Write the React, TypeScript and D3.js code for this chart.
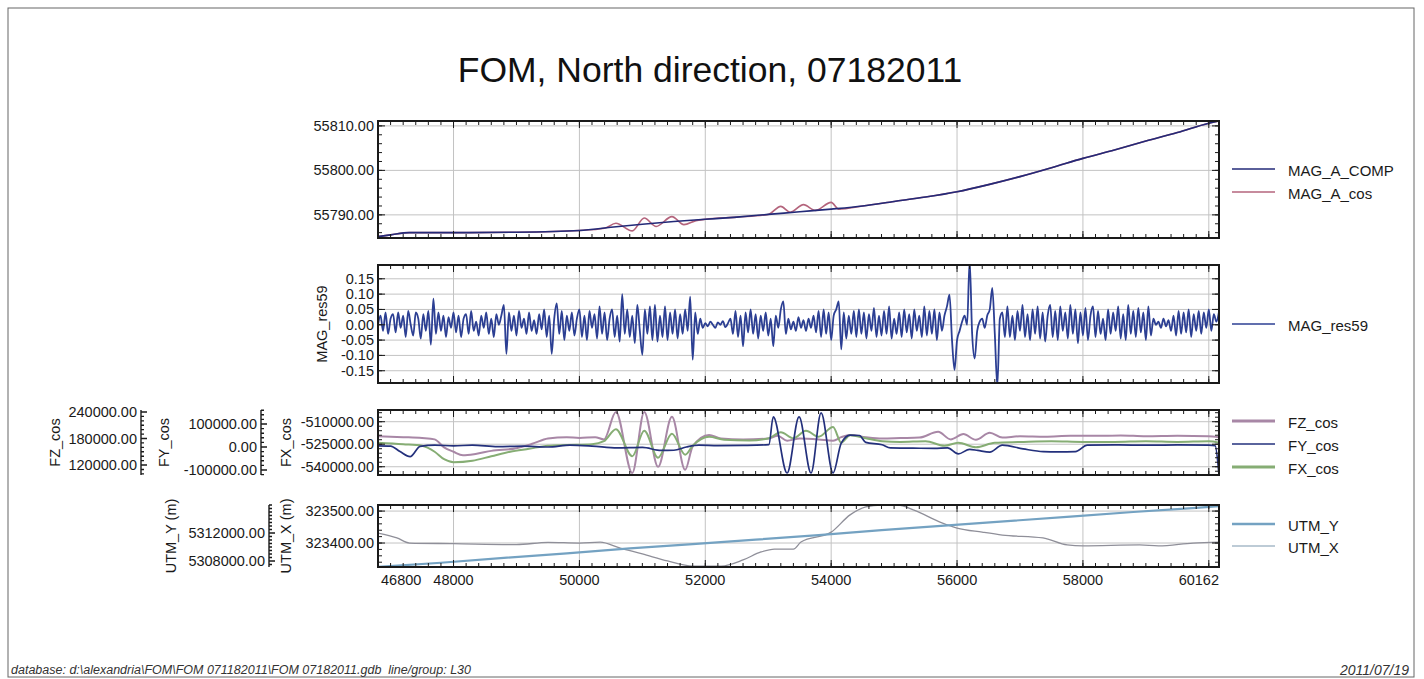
import React from "react";
import * as d3 from "d3";

// ---------- shared fiducial axis ----------
const X_START = 46800;
const X_END = 60162;
const X_GRID = [48000, 50000, 52000, 54000, 56000, 58000, 60000];
const X_LABELS = [46800, 48000, 50000, 52000, 54000, 56000, 58000, 60162];
const X_MINOR_STEP = 200;

const TITLE = "FOM, North direction, 07182011";
const FOOTER_LEFT =
  "database: d:\\alexandria\\FOM\\FOM 071182011\\FOM 07182011.gdb  line/group: L30";
const FOOTER_RIGHT = "2011/07/19";

// ---------- panel 1: total field ----------
const MAG_DOMAIN = [55784.8, 55811.1];
const MAG_TICKS = [55790, 55800, 55810];
const MAG_MINOR = 2;
const MAG_A_COMP: [number, number][] = [
  [46800, 55785.1], [47000, 55785.5], [47300, 55786.0], [48000, 55786.0],
  [49000, 55786.1], [50000, 55786.5], [50500, 55787.2], [51000, 55787.9],
  [51500, 55788.5], [52000, 55789.0], [52500, 55789.5], [53000, 55790.1],
  [53500, 55790.7], [54000, 55791.3], [54500, 55792.0], [55000, 55793.0],
  [55500, 55794.0], [56000, 55795.2], [56500, 55796.8], [57000, 55798.6],
  [57500, 55800.6], [58000, 55802.7], [58500, 55804.6], [59000, 55806.6],
  [59500, 55808.5], [60000, 55810.6], [60162, 55811.1],
];
const MAG_A_COS: [number, number][] = [
  [46800, 55785.1], [47000, 55785.5], [47300, 55786.0], [48000, 55786.0],
  [49000, 55786.1], [50000, 55786.5], [50400, 55787.0], [50580, 55788.1],
  [50840, 55786.4], [51030, 55789.3], [51220, 55787.4], [51470, 55789.6],
  [51660, 55787.8], [51850, 55788.7], [52000, 55789.0], [52500, 55789.5],
  [53000, 55790.1], [53200, 55791.9], [53350, 55790.6], [53560, 55792.3],
  [53750, 55791.0], [54000, 55792.8], [54120, 55791.3], [54500, 55792.0],
  [55000, 55793.0], [55500, 55794.0], [56000, 55795.2], [56500, 55796.8],
  [57000, 55798.6], [57500, 55800.6], [58000, 55802.7], [58500, 55804.6],
  [59000, 55806.6], [59500, 55808.5], [60000, 55810.6], [60162, 55811.1],
];

// ---------- panel 2: residual ----------
const RES_DOMAIN = [-0.19, 0.195];
const RES_TICKS = [-0.15, -0.1, -0.05, 0, 0.05, 0.1, 0.15];
const RES_START = 46800;
const RES_STEP = 40;
const MAG_RES59 = [
  0.0, 0.03, -0.02, 0.04, -0.03, 0.02, 0.035, -0.025, 0.04, -0.01,
  0.03, -0.04, 0.045, 0.0, -0.035, 0.04, 0.02, -0.045, 0.035, -0.02,
  0.045, -0.065, 0.085, -0.03, 0.04, -0.02, 0.03, -0.04, 0.025, -0.01,
  0.04, -0.025, 0.03, -0.04, 0.02, 0.035, -0.03, 0.045, -0.02, 0.01,
  -0.035, 0.03, -0.01, 0.04, -0.03, 0.02, -0.04, 0.035, 0.0, 0.03,
  0.065, -0.095, 0.04, -0.02, 0.03, -0.035, 0.045, -0.01, 0.02, -0.03,
  0.04, -0.02, 0.015, -0.03, 0.035, -0.015, 0.05, -0.04, 0.03, -0.095,
  0.02, 0.07, -0.03, 0.045, -0.05, 0.03, -0.02, 0.04, -0.035, 0.02,
  0.05, -0.04, 0.03, -0.05, 0.045, -0.01, 0.035, -0.045, 0.06, -0.03,
  0.04, -0.05, 0.02, 0.05, -0.04, 0.03, -0.055, 0.1, -0.03, 0.05,
  -0.04, 0.03, -0.06, 0.065, -0.02, -0.098, 0.05, -0.03, 0.06, -0.05,
  0.065, -0.055, 0.03, -0.04, 0.06, -0.05, 0.04, -0.03, 0.05, -0.045,
  0.035, -0.03, 0.05, -0.02, 0.092, -0.114, 0.04, -0.03, 0.02, -0.01,
  0.005, -0.005, 0.01, 0.0, -0.01, 0.008, 0.0, 0.012, -0.008, 0.005,
  0.02, -0.03, 0.045, -0.04, 0.03, -0.07, 0.04, -0.025, 0.05, -0.03,
  0.035, -0.045, 0.03, -0.02, 0.04, -0.035, 0.02, -0.07, 0.03, -0.01,
  0.05, 0.076, -0.03, 0.02, -0.015, 0.01, -0.02, 0.025, -0.01, 0.015,
  -0.02, 0.02, -0.01, 0.03, -0.025, 0.045, -0.04, 0.05, -0.03, 0.04,
  -0.05, 0.03, 0.05, 0.076, -0.08, 0.04, -0.045, 0.03, -0.03, 0.045,
  -0.04, 0.05, -0.03, 0.04, -0.045, 0.035, -0.02, 0.055, -0.04, 0.03,
  -0.035, 0.045, -0.03, 0.06, -0.045, 0.02, -0.03, 0.04, -0.04, 0.05,
  -0.025, 0.035, -0.045, 0.05, -0.02, 0.03, -0.04, 0.06, -0.035, 0.045,
  -0.03, 0.05, -0.05, 0.04, -0.02, 0.03, 0.06, 0.098, -0.05, -0.147,
  -0.05, -0.02, 0.01, 0.03, 0.0, 0.21, -0.03, -0.11, -0.02, 0.01,
  0.02, -0.01, 0.03, 0.05, 0.12, -0.03, -0.2, 0.02, 0.04, -0.04,
  0.06, -0.04, 0.03, -0.05, 0.045, -0.02, 0.065, -0.04, 0.035, -0.05,
  0.05, -0.03, 0.06, -0.045, 0.04, -0.055, 0.03, 0.065, -0.04, 0.045,
  -0.05, 0.06, -0.02, 0.04, -0.045, 0.065, -0.03, 0.05, -0.06, 0.04,
  -0.035, 0.055, -0.05, 0.03, 0.06, -0.04, 0.045, -0.03, 0.02, -0.05,
  0.05, -0.03, 0.04, -0.02, 0.06, -0.045, 0.035, -0.05, 0.065, -0.03,
  0.045, -0.04, 0.055, -0.025, 0.04, -0.05, 0.06, -0.035, 0.02, 0.0,
  0.01, -0.01, 0.02, -0.005, 0.015, -0.02, 0.03, -0.035, 0.045, -0.03,
  0.04, -0.025, 0.05, -0.04, 0.035, -0.02, 0.045, -0.03, 0.04, -0.01,
  0.05, -0.02, 0.035, 0.01, 0.04,
];

// ---------- panel 3: fluxgate components ----------
const FZ_DOMAIN = [97400, 244500];
const FZ_TICKS = [120000, 180000, 240000];
const FY_DOMAIN = [-121700, 160900];
const FY_TICKS = [-100000, 0, 100000];
const FX_DOMAIN = [-545500, -502200];
const FX_TICKS = [-540000, -525000, -510000];
const FZ_COS: [number, number][] = [
  [46800, 185000], [47200, 183000], [47500, 181000], [47700, 178000],
  [47850, 160000], [48000, 150000], [48150, 142000], [48350, 145000],
  [48600, 152000], [49000, 158000], [49250, 168000], [49500, 180000],
  [49800, 183000], [50000, 181000], [50250, 183000], [50390, 178000],
  [50580, 240000], [50840, 102000], [51030, 240000], [51250, 116000],
  [51470, 229000], [51680, 109000], [51800, 162000], [52060, 188000],
  [52250, 180000], [52600, 178000], [53010, 180000], [53150, 186000],
  [53300, 175000], [53500, 180000], [53800, 178000], [54030, 175000],
  [54160, 183000], [54300, 188000], [54550, 183000], [54810, 180000],
  [55100, 181000], [55400, 182000], [55700, 195000], [55900, 178000],
  [56100, 190000], [56300, 177000], [56520, 193000], [56720, 182000],
  [57000, 185000], [57400, 184000], [57800, 186000], [58200, 186000],
  [58600, 187000], [59000, 185000], [59500, 186000], [60000, 185000],
  [60162, 183000],
];
const FY_COS: [number, number][] = [
  [46800, 5000], [47000, 4000], [47150, -20000], [47310, -42000],
  [47470, 3000], [47700, 8000], [48000, 5000], [48300, 8000],
  [48700, 2000], [49100, 4000], [49500, 0], [49850, 8000],
  [50200, 4000], [50600, -4000], [51000, -2000], [51300, -15000],
  [51500, -14000], [51700, 0], [51900, 8000], [52200, 6000],
  [52600, 7000], [53010, 10000], [53080, 131000], [53300, -113000],
  [53490, 131000], [53680, -113000], [53840, 148000], [54030, -113000],
  [54160, 17000], [54300, 52000], [54450, 50000], [54550, 20000],
  [54810, 10000], [54940, -4000], [55300, -5000], [55640, -6000],
  [55850, -4000], [56020, -30000], [56200, -10000], [56330, -15000],
  [56520, -22000], [56720, 8000], [57050, -8000], [57370, -20000],
  [57600, -21000], [57880, -20000], [58070, 8000], [58500, 9000],
  [59070, 8000], [59500, 9000], [60000, 8000], [60100, 6000],
  [60162, -121000],
];
const FX_COS: [number, number][] = [
  [46800, -524000], [47200, -525000], [47500, -526000], [47700, -530000],
  [47850, -535000], [48000, -537000], [48300, -536000], [48600, -533000],
  [48900, -530000], [49200, -528000], [49500, -526000], [49800, -525500],
  [50200, -525000], [50390, -523000], [50580, -515000], [50840, -533000],
  [51030, -516000], [51250, -534000], [51470, -518000], [51680, -532000],
  [51800, -526000], [52060, -520000], [52300, -522000], [52700, -522500],
  [53010, -521000], [53200, -517000], [53400, -521000], [53600, -516000],
  [53800, -520000], [54030, -513500], [54160, -524000], [54300, -519000],
  [54550, -521000], [54810, -523000], [55100, -523500], [55500, -523000],
  [55800, -526000], [56020, -524000], [56300, -527000], [56600, -524000],
  [57000, -523500], [57500, -523000], [58000, -523500], [58500, -523500],
  [59000, -523000], [59500, -523500], [60000, -523000], [60162, -524000],
];

// ---------- panel 4: position ----------
const UTMY_DOMAIN = [5307143, 5316000];
const UTMY_TICKS = [5308000, 5312000];
const UTMX_DOMAIN = [323325, 323519];
const UTMX_TICKS = [323400, 323500];
const UTM_Y: [number, number][] = [
  [46800, 5307150], [47800, 5307750], [48800, 5308450], [49800, 5309100],
  [50800, 5309800], [51800, 5310400], [52800, 5311050], [53800, 5311700],
  [54800, 5312400], [55800, 5313050], [56800, 5313700], [57800, 5314350],
  [58800, 5315000], [59800, 5315600], [60162, 5315850],
];
const UTM_X: [number, number][] = [
  [46800, 323431], [47100, 323416], [47300, 323400], [48000, 323398],
  [49000, 323395], [49500, 323402], [50000, 323400], [50330, 323403],
  [50650, 323384], [51000, 323366], [51400, 323344], [51800, 323328],
  [52250, 323328], [52600, 323347], [52885, 323372], [53100, 323381],
  [53400, 323381], [53520, 323403], [54000, 323434], [54300, 323488],
  [54550, 323513], [54800, 323519], [55060, 323519], [55315, 323503],
  [55760, 323463], [56000, 323447], [56400, 323434], [56720, 323425],
  [57365, 323416], [57750, 323394], [58000, 323391], [58900, 323394],
  [59200, 323391], [59750, 323400], [60162, 323403],
];

// ---------- layout ----------
const FONT = "'Liberation Sans', Arial, Helvetica, sans-serif";
const L = 378;
const R = 1219;
const P1 = { top: 121, bottom: 238 };
const P2 = { top: 265, bottom: 383 };
const P3 = { top: 410, bottom: 475 };
const P4 = { top: 505, bottom: 567 };
const GRID = "#c3c3c3";
const INK = "#1a1a1a";
const TICK_FS = 14.5;

const xScale = d3.scaleLinear().domain([X_START, X_END]).range([L, R]);

function stepValues(a: number, b: number, step: number): number[] {
  const lo = Math.min(a, b);
  const hi = Math.max(a, b);
  const out: number[] = [];
  const k0 = Math.ceil(lo / step - 1e-9);
  const k1 = Math.floor(hi / step + 1e-9);
  for (let k = k0; k <= k1; k++) out.push(k * step);
  return out;
}

function fmt(v: number) {
  return v.toFixed(2);
}

type Scale = d3.ScaleLinear<number, number>;

function Frame({
  top, bottom, y, major, minorStep, id, children,
}: {
  top: number; bottom: number; y: Scale; major: number[]; minorStep: number;
  id: string; children?: React.ReactNode;
}) {
  let d = "";
  stepValues(X_START, X_END, X_MINOR_STEP).forEach((v) => {
    const px = xScale(v);
    d += `M${px},${top}v4M${px},${bottom}v-4`;
  });
  X_GRID.forEach((v) => {
    const px = xScale(v);
    d += `M${px},${top}v7M${px},${bottom}v-7`;
  });
  const [d0, d1] = y.domain();
  stepValues(d0, d1, minorStep).forEach((v) => {
    const py = y(v);
    d += `M${L},${py}h4M${R},${py}h-4`;
  });
  major.forEach((v) => {
    const py = y(v);
    d += `M${L},${py}h7M${R},${py}h-7`;
  });
  return (
    <g>
      <clipPath id={id}>
        <rect x={L} y={top} width={R - L} height={bottom - top} />
      </clipPath>
      {X_GRID.map((v) => (
        <line key={"gx" + v} x1={xScale(v)} x2={xScale(v)} y1={top} y2={bottom}
          stroke={GRID} strokeWidth={1} />
      ))}
      {major.map((v) => (
        <line key={"gy" + v} x1={L} x2={R} y1={y(v)} y2={y(v)} stroke={GRID} strokeWidth={1} />
      ))}
      <g clipPath={`url(#${id})`}>{children}</g>
      <path d={d} stroke={INK} strokeWidth={1} fill="none" />
      <rect x={L} y={top} width={R - L} height={bottom - top} fill="none"
        stroke={INK} strokeWidth={2} />
      {major.map((v) => (
        <text key={"ly" + v} x={L - 4} y={y(v)} textAnchor="end" dominantBaseline="central"
          fontSize={TICK_FS} fill={INK}>{fmt(v)}</text>
      ))}
    </g>
  );
}

function SideAxis({ x, y, major, minorStep }: { x: number; y: Scale; major: number[]; minorStep: number }) {
  const [r0, r1] = y.range();
  let d = `M${x},${r0}V${r1}`;
  const [d0, d1] = y.domain();
  stepValues(d0, d1, minorStep).forEach((v) => {
    d += `M${x},${y(v)}h3`;
  });
  major.forEach((v) => {
    d += `M${x},${y(v)}h6`;
  });
  return (
    <g>
      <path d={d} stroke={INK} strokeWidth={1.4} fill="none" />
      {major.map((v) => (
        <text key={v} x={x - 4} y={y(v)} textAnchor="end" dominantBaseline="central"
          fontSize={TICK_FS} fill={INK}>{fmt(v)}</text>
      ))}
    </g>
  );
}

function VTitle({ x, y, text }: { x: number; y: number; text: string }) {
  return (
    <text transform={`translate(${x},${y}) rotate(-90)`} textAnchor="middle"
      dominantBaseline="central" fontSize={14.5} fill={INK}>{text}</text>
  );
}

function Legend({ items }: { items: { name: string; y: number; color: string; w: number }[] }) {
  return (
    <g>
      {items.map((it) => (
        <g key={it.name}>
          <line x1={1232} x2={1275} y1={it.y} y2={it.y} stroke={it.color} strokeWidth={it.w} />
          <text x={1288} y={it.y + 1} dominantBaseline="central" fontSize={15} fill={INK}>{it.name}</text>
        </g>
      ))}
    </g>
  );
}

const C_COMP = "#232a78";
const C_COS = "#b4647c";
const C_RES = "#2c3f93";
const C_FZ = "#a887a6";
const C_FY = "#23307c";
const C_FX = "#86ad74";
const C_UY = "#74a2c2";
const C_UX = "#8f8f99";

export default function App() {
  const y1 = d3.scaleLinear().domain(MAG_DOMAIN).range([P1.bottom, P1.top]);
  const y2 = d3.scaleLinear().domain(RES_DOMAIN).range([P2.bottom, P2.top]);
  const yFZ = d3.scaleLinear().domain(FZ_DOMAIN).range([P3.bottom, P3.top]);
  const yFY = d3.scaleLinear().domain(FY_DOMAIN).range([P3.bottom, P3.top]);
  const yFX = d3.scaleLinear().domain(FX_DOMAIN).range([P3.bottom, P3.top]);
  const yUY = d3.scaleLinear().domain(UTMY_DOMAIN).range([P4.bottom, P4.top]);
  const yUX = d3.scaleLinear().domain(UTMX_DOMAIN).range([P4.bottom, P4.top]);

  const pairLine = (y: Scale, smooth = true) => {
    const g = d3.line<[number, number]>().x((d) => xScale(d[0])).y((d) => y(d[1]));
    return smooth ? g.curve(d3.curveMonotoneX) : g;
  };
  const resLine = d3
    .line<number>()
    .x((_, i) => xScale(RES_START + i * RES_STEP))
    .y((v) => y2(v))
    .curve(d3.curveMonotoneX);

  const mid3 = (P3.top + P3.bottom) / 2;
  const mid4 = (P4.top + P4.bottom) / 2;

  return (
    <svg width={1424} height={679} viewBox="0 0 1424 679"
      style={{ position: "absolute", left: 0, top: 0, background: "#fff" }}
      fontFamily={FONT}>
      <rect x={0} y={0} width={1424} height={679} fill="#fff" />
      <rect x={8} y={8} width={1406} height={669} fill="none" stroke="#666" strokeWidth={1} />

      <text x={710} y={70} textAnchor="middle" dominantBaseline="central" fontSize={35.5} fill="#111">
        {TITLE}
      </text>

      {/* panel 1 */}
      <Frame top={P1.top} bottom={P1.bottom} y={y1} major={MAG_TICKS} minorStep={MAG_MINOR} id="clip1">
        <path d={pairLine(y1)(MAG_A_COS) || ""} fill="none" stroke={C_COS} strokeWidth={1.6}
          strokeLinejoin="round" />
        <path d={pairLine(y1)(MAG_A_COMP) || ""} fill="none" stroke={C_COMP} strokeWidth={1.6}
          strokeLinejoin="round" />
      </Frame>
      <Legend items={[
        { name: "MAG_A_COMP", y: 169, color: C_COMP, w: 1.5 },
        { name: "MAG_A_cos", y: 192, color: C_COS, w: 1.5 },
      ]} />

      {/* panel 2 */}
      <Frame top={P2.top} bottom={P2.bottom} y={y2} major={RES_TICKS} minorStep={0.05} id="clip2">
        <path d={resLine(MAG_RES59) || ""} fill="none" stroke={C_RES} strokeWidth={1.8}
          strokeLinejoin="round" />
      </Frame>
      <VTitle x={322} y={(P2.top + P2.bottom) / 2} text="MAG_res59" />
      <Legend items={[{ name: "MAG_res59", y: 324, color: C_RES, w: 1.5 }]} />

      {/* panel 3 */}
      <Frame top={P3.top} bottom={P3.bottom} y={yFX} major={FX_TICKS} minorStep={3000} id="clip3">
        <path d={pairLine(yFZ)(FZ_COS) || ""} fill="none" stroke={C_FZ} strokeWidth={2}
          strokeLinejoin="round" />
        <path d={pairLine(yFX)(FX_COS) || ""} fill="none" stroke={C_FX} strokeWidth={2}
          strokeLinejoin="round" />
        <path d={pairLine(yFY)(FY_COS) || ""} fill="none" stroke={C_FY} strokeWidth={1.7}
          strokeLinejoin="round" />
      </Frame>
      <SideAxis x={141} y={yFZ} major={FZ_TICKS} minorStep={10000} />
      <SideAxis x={261} y={yFY} major={FY_TICKS} minorStep={20000} />
      <VTitle x={55} y={mid3} text="FZ_cos" />
      <VTitle x={164} y={mid3} text="FY_cos" />
      <VTitle x={286} y={mid3} text="FX_cos" />
      <Legend items={[
        { name: "FZ_cos", y: 421, color: C_FZ, w: 3 },
        { name: "FY_cos", y: 444, color: C_FY, w: 1.5 },
        { name: "FX_cos", y: 467, color: C_FX, w: 3 },
      ]} />

      {/* panel 4 */}
      <Frame top={P4.top} bottom={P4.bottom} y={yUX} major={UTMX_TICKS} minorStep={20} id="clip4">
        <path d={pairLine(yUX)(UTM_X) || ""} fill="none" stroke={C_UX} strokeWidth={1.3}
          strokeLinejoin="round" />
        <path d={pairLine(yUY, false)(UTM_Y) || ""} fill="none" stroke={C_UY} strokeWidth={2.2}
          strokeLinejoin="round" />
      </Frame>
      <SideAxis x={269} y={yUY} major={UTMY_TICKS} minorStep={500} />
      <VTitle x={171} y={mid4} text="UTM_Y (m)" />
      <VTitle x={286} y={mid4} text="UTM_X (m)" />
      <Legend items={[
        { name: "UTM_Y", y: 524, color: C_UY, w: 2.5 },
        { name: "UTM_X", y: 546, color: "#7d97ad", w: 1.2 },
      ]} />

      {/* fiducial labels */}
      {X_LABELS.map((v, i) => {
        const anchor = i === 0 ? "start" : i === X_LABELS.length - 1 ? "end" : "middle";
        const px = i === 0 ? xScale(v) + 3 : xScale(v);
        return (
          <text key={v} x={px} y={580} textAnchor={anchor} dominantBaseline="central"
            fontSize={TICK_FS} fill={INK}>{v}</text>
        );
      })}

      {/* footer */}
      <text x={11} y={674} fontSize={12.5} fontStyle="italic" fill="#333"
        style={{ whiteSpace: "pre" }}>{FOOTER_LEFT}</text>
      <text x={1409} y={675} textAnchor="end" fontSize={14} fontStyle="italic" fill="#333">
        {FOOTER_RIGHT}
      </text>
    </svg>
  );
}
